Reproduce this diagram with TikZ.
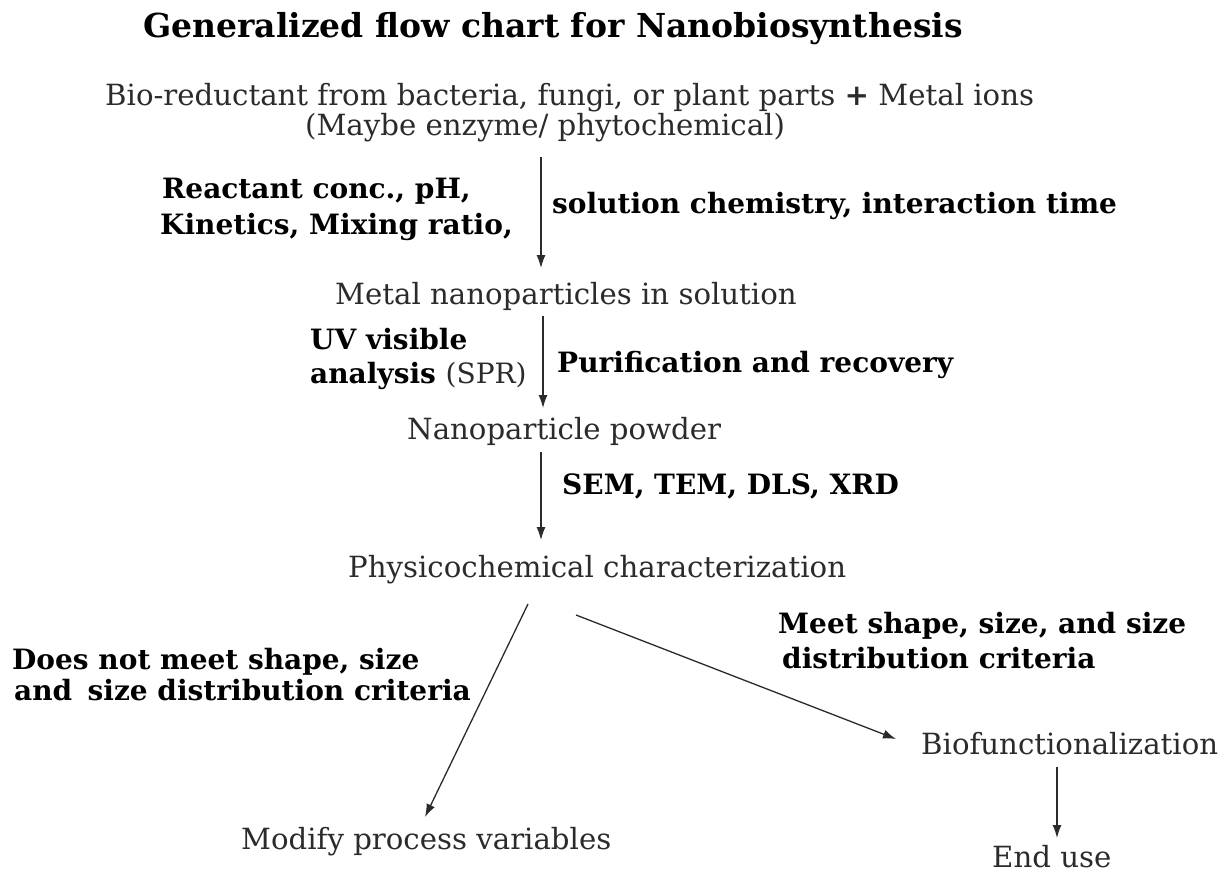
\documentclass[tikz,border=0pt]{standalone}
\usepackage{fontspec}
\setmainfont{DejaVu Serif}
\usetikzlibrary{arrows.meta}
\definecolor{txt}{HTML}{2B2B2B}
\begin{document}
\begin{tikzpicture}[x=1pt,y=-1pt,
  reg/.style={anchor=west,inner sep=0pt,font=\fontsize{29.2}{34}\selectfont,text=txt,text height=22pt,text depth=7pt},
  bld/.style={anchor=west,inner sep=0pt,font=\fontsize{28}{33}\selectfont\bfseries,text=black,text height=20pt,text depth=6.5pt},
  ttl/.style={anchor=base west,inner sep=0pt,font=\fontsize{33}{39}\selectfont\bfseries,text=black},
  arr/.style={-{Latex[length=13pt,width=9pt]},line width=1.3pt,draw=txt}]
\path[use as bounding box,fill=white] (0,0) rectangle (1226,875);

\node[ttl] (title) at (143,38) {Generalized flow chart for Nanobiosynthesis};
\node[reg] (src) at (105,98) {Bio-reductant from bacteria, fungi, or plant parts \textbf{+} Metal ions};
\node[reg] (src2) at (305,128) {(Maybe enzyme/ phytochemical)};
\node[bld] (c1a) at (162,192) {Reactant conc., pH,};
\node[bld] (c1b) at (160,228) {Kinetics, Mixing ratio,};
\node[bld] (c1c) at (552,207) {solution chemistry, interaction time};
\node[reg] (mnp) at (335,297) {Metal nanoparticles in solution};
\node[bld] (uv1) at (310,343) {UV visible};
\node[bld] (uv2) at (310,377) {analysis {\mdseries\color{txt}(SPR)}};
\node[bld] (pur) at (557,366) {Purification and recovery};
\node[reg] (pow) at (407,432) {Nanoparticle powder};
\node[bld] (sem) at (562,488) {SEM, TEM, DLS, XRD};
\node[reg] (phy) at (348,570) {Physicochemical characterization};
\node[bld] (no1) at (12,663) {Does not meet shape, size};
\node[bld] (no2) at (14,694) {and\hspace{0.2em} size distribution criteria};
\node[bld] (ok1) at (778,627) {Meet shape, size, and size};
\node[bld] (ok2) at (782,662) {distribution criteria};
\node[reg] (bio) at (921,747) {Biofunctionalization};
\node[reg] (mod) at (241,842) {Modify process variables};
\node[reg] (enduse) at (992,860) {End use};

\coordinate (a1s) at (541,157);
\coordinate (a1e) at (541,268);
\coordinate (a2s) at (543,316);
\coordinate (a2e) at (543,408);
\coordinate (a3s) at (541,452);
\coordinate (a3e) at (541,540);
\coordinate (l1s) at (528,604);
\coordinate (l1e) at (425,817);
\coordinate (r1s) at (576,615);
\coordinate (r1e) at (896,739);
\coordinate (d1s) at (1057,767);
\coordinate (d1e) at (1057,838);

\draw[arr] (a1s) -- (a1e);
\draw[arr] (a2s) -- (a2e);
\draw[arr] (a3s) -- (a3e);
\draw[arr] (l1s) -- (l1e);
\draw[arr] (r1s) -- (r1e);
\draw[arr] (d1s) -- (d1e);
\end{tikzpicture}
\end{document}
